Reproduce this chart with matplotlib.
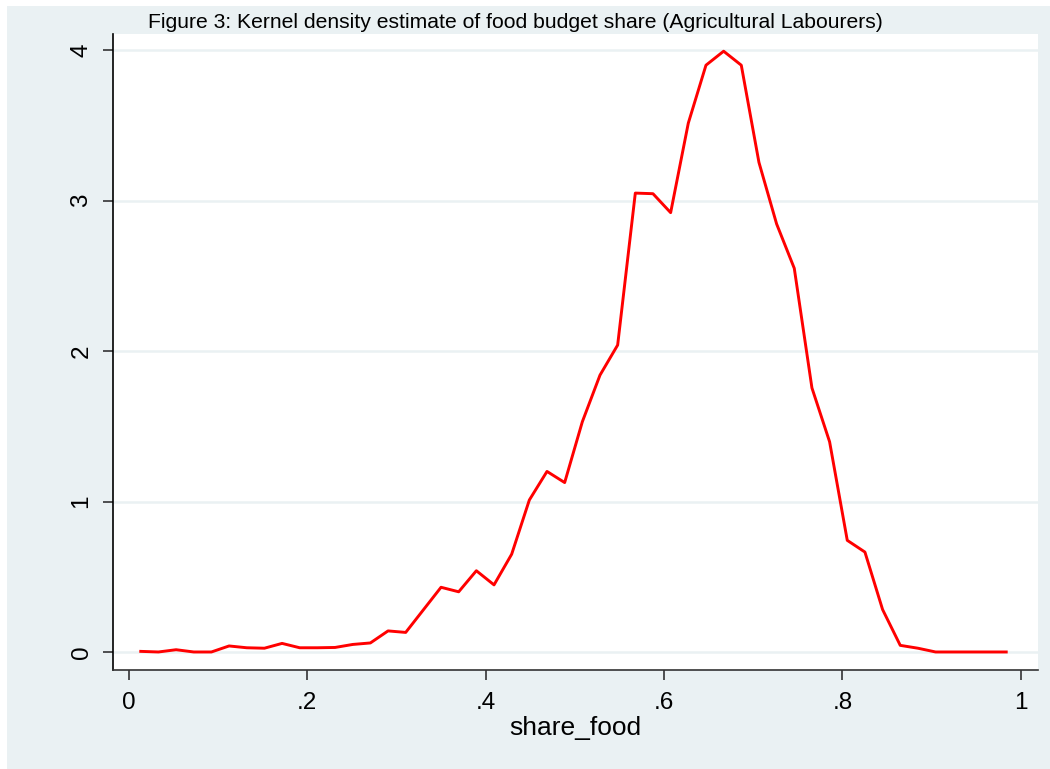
import matplotlib.pyplot as plt
from matplotlib.patches import Rectangle

# kernel density of food budget share, evaluated at 50 points
share_food = [0.0135, 0.0333, 0.0531, 0.0729, 0.0927, 0.1125, 0.1323, 0.1521,
              0.1719, 0.1917, 0.2115, 0.2313, 0.2511, 0.2709, 0.2907, 0.3105,
              0.3303, 0.3501, 0.3699, 0.3897, 0.4095, 0.4293, 0.4491, 0.4689,
              0.4887, 0.5085, 0.5283, 0.5481, 0.5679, 0.5877, 0.6075, 0.6273,
              0.6471, 0.6669, 0.6867, 0.7065, 0.7263, 0.7461, 0.7659, 0.7857,
              0.8055, 0.8253, 0.8451, 0.8649, 0.8847, 0.9045, 0.9243, 0.9441,
              0.9639, 0.9837]
density = [0.004, 0.0, 0.015, 0.0, 0.0, 0.04, 0.028, 0.025,
           0.057, 0.028, 0.028, 0.03, 0.05, 0.06, 0.14, 0.13,
           0.28, 0.43, 0.40, 0.54, 0.446, 0.65, 1.01, 1.2,
           1.126, 1.53, 1.84, 2.04, 3.05, 3.046, 2.92, 3.515,
           3.90, 3.993, 3.90, 3.254, 2.845, 2.55, 1.755, 1.397,
           0.742, 0.664, 0.282, 0.044, 0.025, 0.0, 0.0, 0.0,
           0.0, 0.0]

x_ticks = [0, 0.2, 0.4, 0.6, 0.8, 1.0]
x_labels = ['0', '.2', '.4', '.6', '.8', '1']
y_ticks = [0, 1, 2, 3, 4]

bg = '#EAF1F3'
plt.rcParams['font.family'] = ['Liberation Sans', 'DejaVu Sans']

fig = plt.figure(figsize=(10.5, 7.69), dpi=100)
fig.patch.set_facecolor('white')
# light graph region, leaving a thin white strip on top and left
fig.patches.append(Rectangle((7 / 1050, 0), 1, 1 - 6 / 769,
                             transform=fig.transFigure, facecolor=bg,
                             edgecolor='none', zorder=-5))

ax = fig.add_axes([0.1073, 0.1287, 0.881, 0.827])
ax.set_zorder(2)
ax.set_facecolor('white')
ax.plot(share_food, density, color='#FF0000', linewidth=2.1, zorder=3)

ax.set_xlim(-0.018, 1.019)
ax.set_ylim(-0.12, 4.107)
ax.set_xticks(x_ticks)
ax.set_xticklabels(x_labels)
ax.set_yticks(y_ticks)
ax.set_yticklabels([str(v) for v in y_ticks], rotation=90, va='center')
ax.tick_params(axis='both', labelsize=17.5, length=7.5, width=1.2,
               color='#333333', labelcolor='black')
ax.tick_params(axis='x', pad=8)
ax.tick_params(axis='y', pad=7)

ax.yaxis.grid(True, color=bg, linewidth=1.8, zorder=1)
ax.set_axisbelow(True)

for side in ['top', 'right']:
    ax.spines[side].set_visible(False)
ax.spines['left'].set_color('black')
ax.spines['bottom'].set_color('#333333')
ax.spines['left'].set_linewidth(1.2)
ax.spines['bottom'].set_linewidth(1.2)

ax.set_xlabel('share_food', fontsize=19, labelpad=2)

fig.text(0.491, 0.9636,
         'Figure 3: Kernel density estimate of food budget share (Agricultural Labourers)',
         fontsize=15.2, ha='center', va='baseline', zorder=3)

fig.savefig('out.png', dpi=100)
